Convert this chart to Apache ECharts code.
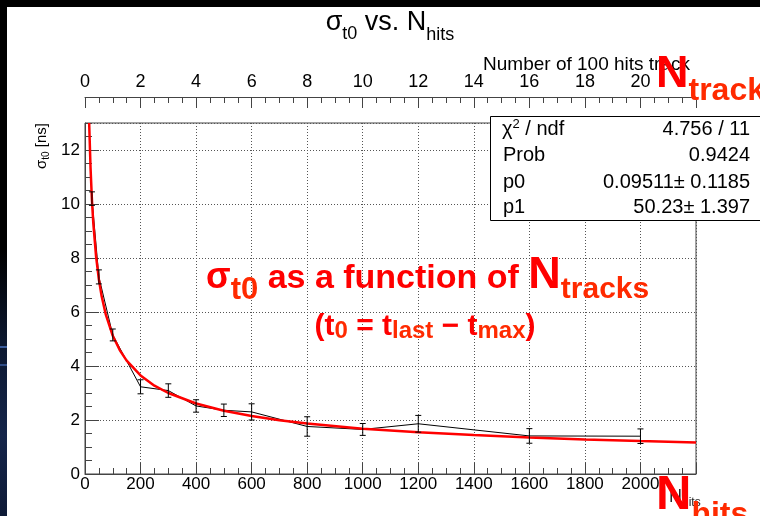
<!DOCTYPE html>
<html>
<head>
<meta charset="utf-8">
<title>sigma t0 vs. N hits</title>
<script src="https://cdn.jsdelivr.net/npm/echarts@6/dist/echarts.min.js"></script>
<style>
  html, body { margin: 0; padding: 0; background: #fff; }
  #chart { width: 760px; height: 516px; }
</style>
</head>
<body>
<div id="chart"></div>
<script>
// Measured resolution of t0 versus number of hits (with statistical errors)
const nHits    = [25, 50, 100, 200, 300, 400, 500, 600, 800, 1000, 1200, 1600, 2000];
const sigmaT0  = [10.2, 7.3, 5.15, 3.23, 3.09, 2.52, 2.36, 2.30, 1.76, 1.65, 1.86, 1.41, 1.40];
const sigmaErr = [0.25, 0.26, 0.22, 0.26, 0.25, 0.23, 0.23, 0.30, 0.36, 0.22, 0.31, 0.27, 0.27];

// Fitted curve p0 + p1/sqrt(N), sampled along N
const fitHits  = [15, 20, 25, 30, 40, 50, 60, 75, 100, 125, 150, 200, 250, 300, 400, 500,
                  600, 700, 800, 1000, 1200, 1400, 1600, 1800, 2000, 2200];
const fitSigma = [13.0, 11.33, 10.14, 9.27, 8.04, 7.20, 6.58, 5.90, 5.12, 4.59, 4.20, 3.65,
                  3.27, 3.00, 2.61, 2.34, 2.15, 1.99, 1.87, 1.68, 1.55, 1.44, 1.35, 1.28, 1.22, 1.17];

// Fit summary box
const statNames  = ['χ2 / ndf', 'Prob', 'p0', 'p1'];
const statValues = ['4.756 / 11', '0.9424', '0.09511± 0.1185', '50.23± 1.397'];

// Axis tick labels
const hitsTicks   = [0, 200, 400, 600, 800, 1000, 1200, 1400, 1600, 1800, 2000];
const tracksTicks = [0, 2, 4, 6, 8, 10, 12, 14, 16, 18, 20];
const sigmaTicks  = [0, 2, 4, 6, 8, 10, 12];

const FONT = '"Liberation Sans", Arial, Helvetica, sans-serif';
const RED = '#ff0000';
const ORANGE = '#ff2a00';
const AXIS = '#444';

// text measuring for runs of mixed-size text (sub/superscripts)
const mctx = document.createElement('canvas').getContext('2d');
function textWidth(t, size, weight) {
  mctx.font = (weight || 'normal') + ' ' + size + 'px ' + FONT;
  return mctx.measureText(t).width;
}
function textRun(x, base, parts, anchor, z) {
  const widths = parts.map(p => textWidth(p.t, p.s, p.w));
  const total = widths.reduce((a, b) => a + b, 0);
  let cx = anchor === 'center' ? x - total / 2 : anchor === 'right' ? x - total : x;
  const els = [];
  parts.forEach((p, i) => {
    const b = base + (p.dy || 0);
    els.push({
      type: 'text', x: cx, y: b - 0.35 * p.s, z: z || 100, silent: true,
      style: {
        text: p.t, fill: p.c || '#000',
        font: (p.w || 'normal') + ' ' + p.s + 'px ' + FONT,
        align: 'left', verticalAlign: 'middle',
        textAlign: 'left', textVerticalAlign: 'middle'
      }
    });
    cx += widths[i];
  });
  return els;
}

const graphics = [];

// slide edges
graphics.push({ type: 'rect', shape: { x: 0, y: 0, width: 760, height: 7 }, style: { fill: '#000' }, z: 120, silent: true });
graphics.push({ type: 'rect', shape: { x: 0, y: 0, width: 7, height: 516 }, style: { fill: '#000' }, z: 120, silent: true });
graphics.push({
  type: 'rect', shape: { x: 0, y: 250, width: 7, height: 266 }, z: 121, silent: true,
  style: { fill: { type: 'linear', x: 0, y: 0, x2: 0, y2: 1, colorStops: [
    { offset: 0, color: '#000' }, { offset: 0.35, color: '#0c1830' },
    { offset: 0.7, color: '#15254a' }, { offset: 1, color: '#0e1a36' }] } }
});
graphics.push({ type: 'rect', shape: { x: 0, y: 346, width: 7, height: 2 }, style: { fill: '#3a5c9c' }, z: 122, silent: true });
graphics.push({ type: 'rect', shape: { x: 0, y: 364, width: 7, height: 2 }, style: { fill: '#2f4c86' }, z: 122, silent: true });

// title
graphics.push(...textRun(390, 31.5, [
  { t: 'σ', s: 27 }, { t: 't0', s: 18, dy: 9 }, { t: ' vs. ', s: 27 },
  { t: 'N', s: 27 }, { t: 'hits', s: 18, dy: 10 }
], 'center'));

// y axis title (rotated)
graphics.push({
  type: 'group', x: 47, y: 123, rotation: Math.PI / 2, silent: true,
  children: textRun(0, 0, [
    { t: 'σ', s: 15 }, { t: 't0', s: 10, dy: 3 }, { t: ' [ns]', s: 15 }
  ], 'right')
});

// top axis title
graphics.push(...textRun(690, 71, [{ t: 'Number of 100 hits track', s: 19 }], 'right', 90));

// x axis title (mostly covered by the big label)
graphics.push(...textRun(669, 503, [{ t: 'N', s: 18, c: '#222' }, { t: 'hits', s: 12, dy: 4, c: '#222' }], 'left', 90));

// fit statistics box
graphics.push({
  type: 'rect', shape: { x: 490.5, y: 116.5, width: 300, height: 104 }, z: 95, silent: true,
  style: { fill: '#fff', stroke: '#000', lineWidth: 1 }
});
const rowBase = [136.5, 162.7, 189, 214.3];
statNames.forEach((name, i) => {
  if (name.indexOf('χ2') === 0) {
    graphics.push(...textRun(502, rowBase[i], [
      { t: 'χ', s: 20 }, { t: '2', s: 13, dy: -8 }, { t: name.slice(2), s: 20 }
    ], 'left'));
  } else {
    graphics.push(...textRun(503, rowBase[i], [{ t: name, s: 20 }], 'left'));
  }
  graphics.push(...textRun(750, rowBase[i], [{ t: statValues[i], s: 20 }], 'right'));
});

// annotation in the plot
graphics.push(...textRun(206, 291, [
  { t: 'σ', s: 36, w: 'bold', c: RED },
  { t: 't0', s: 31, w: 'bold', c: ORANGE, dy: 10 },
  { t: ' as a function of ', s: 34, w: 'bold', c: RED },
  { t: 'N', s: 45, w: 'bold', c: RED },
  { t: 'tracks', s: 30, w: 'bold', c: ORANGE, dy: 9 }
], 'left'));
graphics.push(...textRun(425, 337, [
  { t: '(t', s: 30, w: 'bold', c: RED },
  { t: '0', s: 24, w: 'bold', c: ORANGE, dy: 3 },
  { t: ' = t', s: 30, w: 'bold', c: RED },
  { t: 'last', s: 24, w: 'bold', c: ORANGE, dy: 3 },
  { t: ' − t', s: 30, w: 'bold', c: RED },
  { t: 'max', s: 24, w: 'bold', c: ORANGE, dy: 3 },
  { t: ')', s: 30, w: 'bold', c: RED }
], 'center'));

// big axis labels
graphics.push(...textRun(656, 90, [
  { t: 'N', s: 45, w: 'bold', c: RED }, { t: 'tracks', s: 32, w: 'bold', c: ORANGE, dy: 12 }
], 'left', 110));
graphics.push(...textRun(656, 513, [
  { t: 'N', s: 49, w: 'bold', c: RED }, { t: 'hits', s: 32, w: 'bold', c: ORANGE, dy: 13 }
], 'left', 110));

const tickLine = { color: AXIS, width: 1 };
const dotted = { color: '#555', width: 1, type: [1, 2] };

const chart = echarts.init(document.getElementById('chart'), null, { renderer: 'canvas' });
chart.setOption({
  animation: false,
  backgroundColor: '#fff',
  grid: {
    left: 85, right: 64, top: 123, bottom: 42,
    show: true, borderColor: AXIS, borderWidth: 1, backgroundColor: '#fff',
    containLabel: false, outerBoundsMode: 'none'
  },
  xAxis: [
    {
      type: 'value', position: 'bottom', min: 0, max: 2200, interval: 200,
      axisLine: { show: true, onZero: false, lineStyle: tickLine },
      axisTick: { show: true, inside: true, length: 11, lineStyle: tickLine },
      minorTick: { show: true, splitNumber: 4, length: 6, lineStyle: tickLine },
      axisLabel: {
        show: true, fontSize: 17, fontFamily: FONT, color: '#000', margin: 2,
        showMaxLabel: false,
        formatter: v => hitsTicks.indexOf(v) >= 0 ? String(v) : ''
      },
      splitLine: { show: true, lineStyle: dotted }
    },
    {
      type: 'value', position: 'top', offset: 26, min: 0, max: 22, interval: 2,
      axisLine: { show: true, onZero: false, lineStyle: tickLine },
      axisTick: { show: true, inside: true, length: 11, lineStyle: tickLine },
      minorTick: { show: true, splitNumber: 4, length: 6, lineStyle: tickLine },
      axisLabel: {
        show: true, fontSize: 18, fontFamily: FONT, color: '#000', margin: 6,
        showMaxLabel: false,
        formatter: v => tracksTicks.indexOf(v) >= 0 ? String(v) : ''
      },
      splitLine: { show: false }
    }
  ],
  yAxis: [
    {
      type: 'value', position: 'left', min: 0, max: 13, interval: 2,
      axisLine: { show: true, onZero: false, lineStyle: tickLine },
      axisTick: { show: true, inside: true, length: 14, lineStyle: tickLine },
      axisLabel: {
        show: true, fontSize: 17, fontFamily: FONT, color: '#000', margin: 5,
        showMaxLabel: false,
        formatter: v => sigmaTicks.indexOf(v) >= 0 ? String(v) : ''
      },
      splitLine: { show: true, lineStyle: dotted }
    },
    {
      // half-unit minor ticks along the same left axis
      type: 'value', position: 'left', offset: 0, min: 0, max: 13, interval: 0.5,
      axisLine: { show: false },
      axisTick: { show: true, inside: true, length: 7, lineStyle: tickLine },
      axisLabel: { show: false },
      splitLine: { show: false }
    }
  ],
  series: [
    {
      name: 'measured', type: 'line', xAxisIndex: 0, yAxisIndex: 0,
      data: nHits.map((x, i) => [x, sigmaT0[i]]),
      showSymbol: false, symbol: 'none',
      lineStyle: { color: '#000', width: 1 }, z: 3
    },
    {
      name: 'fit', type: 'line', xAxisIndex: 0, yAxisIndex: 0,
      data: fitHits.map((x, i) => [x, fitSigma[i]]),
      showSymbol: false, symbol: 'none', clip: true,
      lineStyle: { color: '#ff0000', width: 2.5 }, z: 4
    },
    {
      name: 'errors', type: 'custom', xAxisIndex: 0, yAxisIndex: 0,
      data: nHits.map((x, i) => [x, sigmaT0[i], sigmaErr[i]]),
      encode: { x: 0, y: 1 }, z: 5,
      renderItem: (params, api) => {
        const x = api.value(0), y = api.value(1), e = api.value(2);
        const top = api.coord([x, y + e]);
        const bot = api.coord([x, y - e]);
        const cap = 3;
        const st = { stroke: '#000', lineWidth: 1 };
        return {
          type: 'group',
          children: [
            { type: 'line', shape: { x1: top[0], y1: top[1], x2: bot[0], y2: bot[1] }, style: st },
            { type: 'line', shape: { x1: top[0] - cap, y1: top[1], x2: top[0] + cap, y2: top[1] }, style: st },
            { type: 'line', shape: { x1: bot[0] - cap, y1: bot[1], x2: bot[0] + cap, y2: bot[1] }, style: st }
          ]
        };
      }
    }
  ],
  graphic: { elements: graphics }
});
</script>
</body>
</html>
